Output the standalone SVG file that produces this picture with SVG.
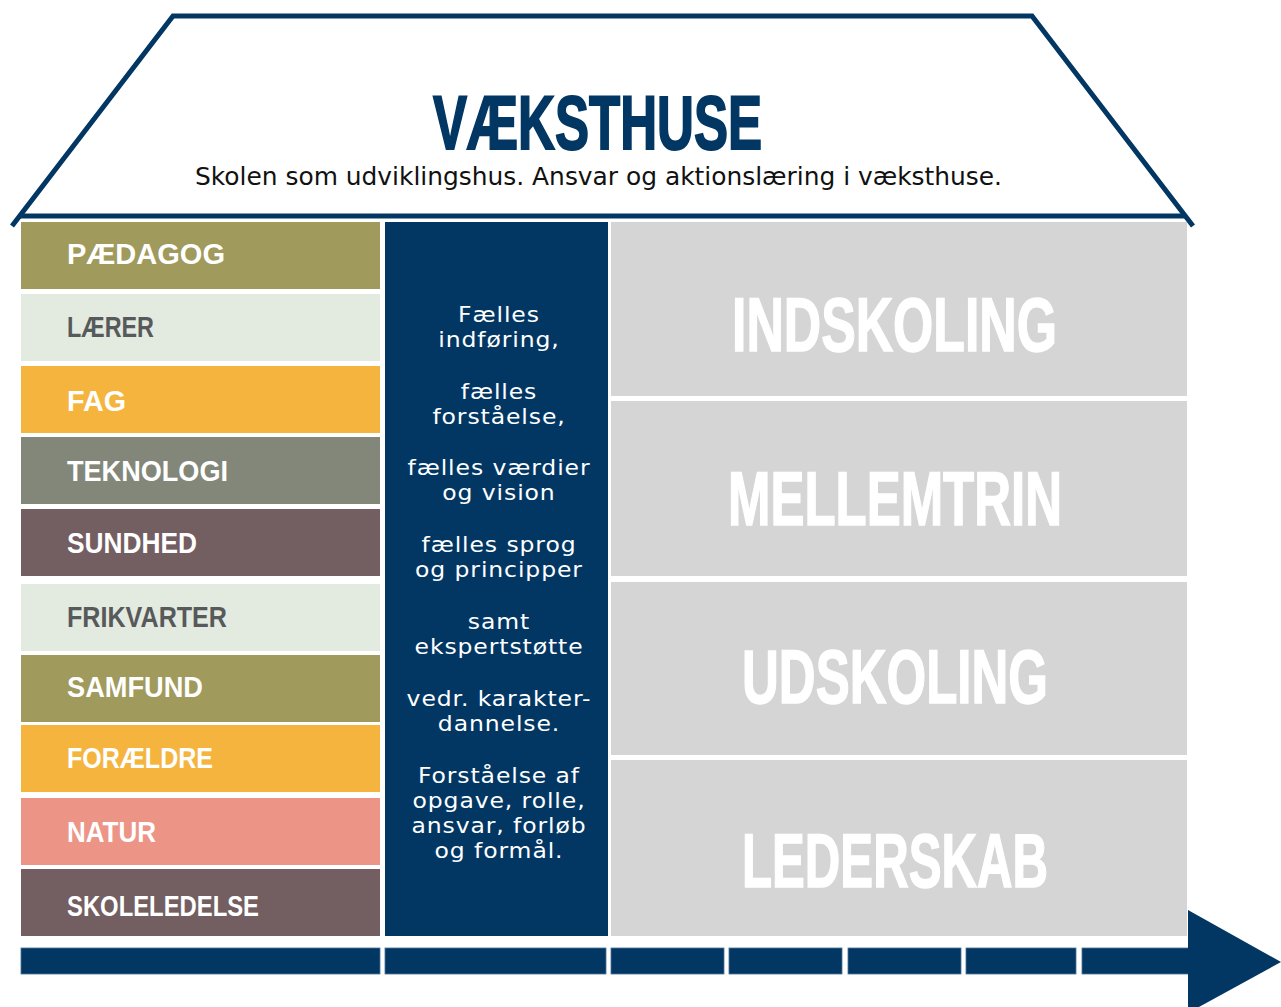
<svg xmlns="http://www.w3.org/2000/svg" width="1281" height="1007" viewBox="0 0 1281 1007">
<style>
.navy{fill:#023764}
.lbl{font-family:"Liberation Sans",Arial,sans-serif;font-weight:bold;font-size:29px;fill:#ffffff}
.lbl.dark{fill:#58595b}
.mid{font-family:"DejaVu Sans","Liberation Sans",sans-serif;font-size:21px;letter-spacing:0.8px;fill:#ffffff;text-anchor:middle}
.big{font-family:"Liberation Sans",Arial,sans-serif;font-weight:bold;font-size:76px;fill:#ffffff;stroke:#ffffff;stroke-width:1.5}
.roof{fill:none;stroke:#023764;stroke-width:5;stroke-linejoin:miter}
.gray{fill:#d5d5d5}
.seg{fill:#023764;stroke:#4c7196;stroke-width:0.8}
</style>
<rect width="1281" height="1007" fill="#ffffff"/>
<g id="roof">
<polyline class="roof" points="12,226 173,16 1032,16 1193,226"/>
<line class="roof" x1="19" y1="216" x2="1186" y2="216"/>
<text x="433" y="148.5" textLength="329" lengthAdjust="spacingAndGlyphs" style="font-family:'Liberation Sans',Arial,sans-serif;font-weight:bold;font-size:76px;fill:#023764;stroke:#023764;stroke-width:2">VÆKSTHUSE</text>
<text x="195" y="185" textLength="807" lengthAdjust="spacingAndGlyphs" style="font-family:'DejaVu Sans','Liberation Sans',sans-serif;font-size:24px;fill:#111111">Skolen som udviklingshus. Ansvar og aktionslæring i væksthuse.</text>
</g>
<g id="left-column">
<g id="paedagog"><rect x="21" y="222" width="359" height="67" fill="#a09a5d"/><text class="lbl" x="67" y="264" textLength="158" lengthAdjust="spacingAndGlyphs">PÆDAGOG</text></g>
<g id="laerer"><rect x="21" y="294" width="359" height="67" fill="#e3ebe0"/><text class="lbl dark" x="67" y="337" textLength="87" lengthAdjust="spacingAndGlyphs">LÆRER</text></g>
<g id="fag"><rect x="21" y="366" width="359" height="67" fill="#f5b43e"/><text class="lbl" x="67" y="411" textLength="59" lengthAdjust="spacingAndGlyphs">FAG</text></g>
<g id="teknologi"><rect x="21" y="437" width="359" height="67" fill="#828779"/><text class="lbl" x="67" y="481" textLength="161" lengthAdjust="spacingAndGlyphs">TEKNOLOGI</text></g>
<g id="sundhed"><rect x="21" y="509" width="359" height="67" fill="#735e62"/><text class="lbl" x="67" y="553" textLength="130" lengthAdjust="spacingAndGlyphs">SUNDHED</text></g>
<g id="frikvarter"><rect x="21" y="584" width="359" height="67" fill="#e3ebe0"/><text class="lbl dark" x="67" y="627" textLength="160" lengthAdjust="spacingAndGlyphs">FRIKVARTER</text></g>
<g id="samfund"><rect x="21" y="655" width="359" height="67" fill="#a09a5d"/><text class="lbl" x="67" y="697" textLength="136" lengthAdjust="spacingAndGlyphs">SAMFUND</text></g>
<g id="foraeldre"><rect x="21" y="725" width="359" height="67" fill="#f5b43e"/><text class="lbl" x="67" y="768" textLength="146" lengthAdjust="spacingAndGlyphs">FORÆLDRE</text></g>
<g id="natur"><rect x="21" y="798" width="359" height="67" fill="#ec9587"/><text class="lbl" x="67" y="842" textLength="89" lengthAdjust="spacingAndGlyphs">NATUR</text></g>
<g id="skoleledelse"><rect x="21" y="869" width="359" height="67" fill="#735e62"/><text class="lbl" x="67" y="916" textLength="192" lengthAdjust="spacingAndGlyphs">SKOLELEDELSE</text></g>
</g>
<g id="middle-column">
<rect class="navy" x="385" y="222" width="223" height="714"/>
<g transform="translate(499,0) scale(1.12,1)">
<text class="mid" x="0" y="322">Fælles</text>
<text class="mid" x="0" y="347">indføring,</text>
<text class="mid" x="0" y="399">fælles</text>
<text class="mid" x="0" y="424">forståelse,</text>
<text class="mid" x="0" y="475">fælles værdier</text>
<text class="mid" x="0" y="500">og vision</text>
<text class="mid" x="0" y="552">fælles sprog</text>
<text class="mid" x="0" y="577">og principper</text>
<text class="mid" x="0" y="629">samt</text>
<text class="mid" x="0" y="654">ekspertstøtte</text>
<text class="mid" x="0" y="706">vedr. karakter-</text>
<text class="mid" x="0" y="731">dannelse.</text>
<text class="mid" x="0" y="783">Forståelse af</text>
<text class="mid" x="0" y="808">opgave, rolle,</text>
<text class="mid" x="0" y="833">ansvar, forløb</text>
<text class="mid" x="0" y="858">og formål.</text>
</g>
</g>
<g id="indskoling"><rect class="gray" x="611" y="222" width="576" height="174"/><text class="big" x="732" y="351" textLength="325" lengthAdjust="spacingAndGlyphs">INDSKOLING</text></g>
<g id="mellemtrin"><rect class="gray" x="611" y="401" width="576" height="175"/><text class="big" x="728" y="525" textLength="334" lengthAdjust="spacingAndGlyphs">MELLEMTRIN</text></g>
<g id="udskoling"><rect class="gray" x="611" y="582" width="576" height="173"/><text class="big" x="742" y="703" textLength="306" lengthAdjust="spacingAndGlyphs">UDSKOLING</text></g>
<g id="lederskab"><rect class="gray" x="611" y="760" width="576" height="176"/><text class="big" x="742" y="887" textLength="306" lengthAdjust="spacingAndGlyphs">LEDERSKAB</text></g>
<g id="connectors">
<rect class="seg" x="21" y="948" width="359" height="26"/>
<rect class="seg" x="385" y="948" width="221" height="26"/>
<rect class="seg" x="611" y="948" width="113" height="26"/>
<rect class="seg" x="729" y="948" width="113" height="26"/>
<rect class="seg" x="848" y="948" width="113" height="26"/>
<rect class="seg" x="966" y="948" width="110" height="26"/>
<rect class="seg" x="1082" y="948" width="108" height="26"/>
<polygon class="navy" points="1188,910 1281,962 1188,1013"/>
</g>
</svg>
